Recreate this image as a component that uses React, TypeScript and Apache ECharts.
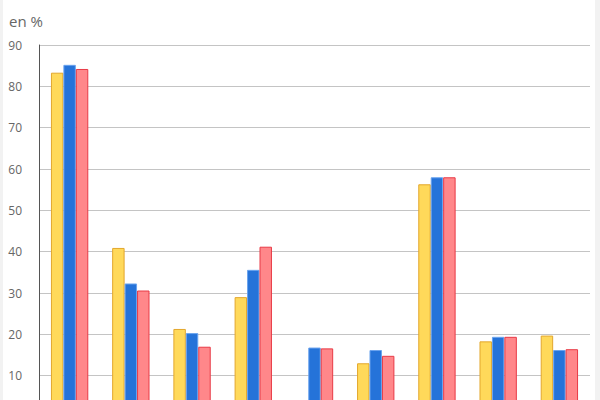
import React, { useEffect, useRef } from "react";
import * as echarts from "echarts";

const categories = ["1", "2", "3", "4", "5", "6", "7", "8", "9"];
const serieJaune = [83.3, 40.9, 21.3, 29.0, null, 13.0, 56.3, 18.3, 19.7];
const serieBleue = [85.2, 32.3, 20.3, 35.6, 16.8, 16.2, 58.0, 19.4, 16.2];
const serieRouge = [84.2, 30.6, 17.0, 41.2, 16.6, 14.8, 58.0, 19.4, 16.4];
const yTicks = { min: 0, max: 90, interval: 10 };

export default function App() {
  const ref = useRef<HTMLDivElement>(null);

  useEffect(() => {
    if (!ref.current) return;
    const chart = echarts.init(ref.current, undefined, { renderer: "svg" });
    const barStyle = (fill: string, border: string) => ({
      color: fill,
      borderColor: border,
      borderWidth: 1,
    });
    chart.setOption({
      animation: false,
      backgroundColor: "#ffffff",
      textStyle: { fontFamily: "Open Sans" },
      graphic: [
        { type: "rect", left: 0, top: 0, shape: { width: 3, height: 440 }, style: { fill: "#f2f2f2" }, silent: true },
        { type: "rect", left: 595, top: 0, shape: { width: 5, height: 440 }, style: { fill: "#f2f2f2" }, silent: true },
        {
          type: "text",
          left: 9,
          top: 13,
          style: { text: "en %", fontSize: 15, fill: "#666666", fontFamily: "Open Sans" },
        },
      ],
      grid: { left: 39, right: 10, top: 45, bottom: 23, containLabel: false },
      xAxis: {
        type: "category",
        data: categories,
        axisLine: { show: false },
        axisTick: { show: false },
        axisLabel: { show: false },
      },
      yAxis: {
        type: "value",
        min: yTicks.min,
        max: yTicks.max,
        interval: yTicks.interval,
        axisLine: { show: true, lineStyle: { color: "#555555", width: 1 } },
        axisTick: { show: false },
        axisLabel: {
          color: "#666666",
          fontSize: 12,
          margin: 17,
          fontFamily: "Open Sans",
          showMinLabel: false,
        },
        splitLine: { lineStyle: { color: "#c4c4c4", width: 1 } },
      },
      series: [
        {
          type: "bar",
          data: serieJaune,
          barGap: "0%",
          barCategoryGap: "39%",
          itemStyle: barStyle("#ffd95a", "#e3a72c"),
        },
        {
          type: "bar",
          data: serieBleue,
          barGap: "0%",
          barCategoryGap: "39%",
          itemStyle: barStyle("#2573d9", "#6aa3ee"),
        },
        {
          type: "bar",
          data: serieRouge,
          barGap: "0%",
          barCategoryGap: "39%",
          itemStyle: barStyle("#ff878a", "#e83a46"),
        },
      ],
    });
    return () => chart.dispose();
  }, []);

  return (
    <div
      style={{
        position: "absolute",
        left: 0,
        top: 0,
        width: 600,
        height: 400,
        overflow: "hidden",
      }}
    >
      <div ref={ref} style={{ width: 600, height: 440 }} />
    </div>
  );
}
